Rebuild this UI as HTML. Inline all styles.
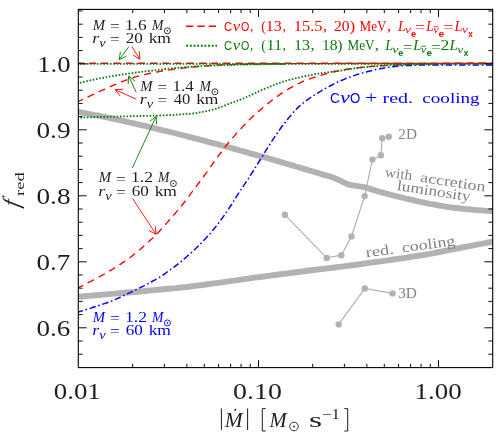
<!DOCTYPE html>
<html><head><meta charset="utf-8"><title>chart</title>
<style>html,body{margin:0;padding:0;background:#fff;}svg{display:block;will-change:transform;}</style></head>
<body>
<svg width="498" height="440" viewBox="0 0 498 440">
<rect width="498" height="440" fill="#fff"/>
<defs><clipPath id="cp"><rect x="78.3" y="9.4" width="414.4" height="358.2"/></clipPath></defs>
<g clip-path="url(#cp)" fill="none">
<path d="M77.0,111.8 L77.7,111.9 L78.7,112.0 L79.7,112.2 L80.9,112.4 L82.2,112.7 L83.7,112.9 L85.2,113.2 L86.7,113.5 L88.4,113.8 L90.0,114.1 L91.7,114.4 L93.6,114.8 L95.5,115.1 L97.5,115.5 L99.6,115.9 L101.7,116.4 L103.8,116.8 L105.9,117.2 L108.0,117.7 L110.0,118.1 L112.0,118.5 L114.0,118.9 L116.0,119.4 L118.0,119.8 L120.0,120.2 L122.0,120.7 L124.0,121.1 L126.0,121.6 L128.0,122.1 L130.0,122.5 L132.0,123.0 L134.0,123.4 L136.0,123.9 L138.0,124.3 L140.0,124.8 L142.0,125.3 L144.0,125.7 L146.0,126.2 L148.0,126.7 L150.0,127.2 L152.0,127.6 L154.0,128.1 L156.0,128.6 L158.0,129.1 L160.0,129.6 L162.0,130.1 L164.0,130.6 L166.0,131.0 L168.0,131.5 L170.0,132.0 L172.0,132.5 L174.0,133.0 L176.0,133.5 L178.0,134.0 L180.0,134.5 L182.0,135.0 L184.0,135.5 L186.0,136.0 L188.0,136.6 L190.0,137.1 L192.0,137.6 L194.0,138.1 L196.0,138.6 L198.0,139.1 L200.0,139.7 L202.0,140.2 L204.0,140.7 L206.0,141.2 L208.0,141.8 L210.0,142.3 L212.0,142.8 L214.0,143.4 L216.0,143.9 L218.0,144.4 L220.0,145.0 L222.0,145.5 L224.0,146.1 L226.0,146.6 L228.0,147.1 L230.0,147.7 L232.0,148.2 L234.0,148.8 L236.0,149.4 L238.0,149.9 L240.0,150.5 L242.0,151.0 L244.0,151.6 L246.0,152.2 L248.0,152.7 L250.0,153.3 L252.0,153.8 L254.0,154.4 L256.0,154.9 L258.0,155.5 L260.0,156.0 L262.0,156.6 L264.0,157.2 L266.0,157.7 L268.0,158.3 L270.0,158.8 L272.0,159.4 L274.0,160.0 L276.0,160.6 L278.0,161.2 L280.0,161.8 L282.0,162.4 L284.0,163.0 L286.0,163.6 L288.0,164.2 L290.0,164.7 L292.0,165.3 L293.9,165.9 L295.9,166.5 L297.8,167.0 L299.7,167.6 L301.7,168.2 L303.7,168.8 L305.7,169.4 L307.8,170.0 L310.0,170.7 L312.4,171.3 L314.9,172.1 L317.7,172.9 L320.5,173.8 L323.3,174.6 L326.0,175.4 L328.5,176.1 L330.8,176.8 L332.6,177.4 L334.1,177.8 L334.1,177.8 L348.6,184.7 L356.0,185.8 L364.6,187.1 L364.6,187.1 L365.5,187.4 L366.6,187.7 L367.8,188.1 L369.3,188.6 L370.8,189.1 L372.5,189.7 L374.3,190.2 L376.1,190.8 L378.1,191.3 L380.0,191.9 L382.0,192.5 L384.2,193.0 L386.5,193.7 L388.9,194.3 L391.3,194.9 L393.8,195.6 L396.3,196.2 L398.8,196.8 L401.3,197.4 L403.7,198.0 L406.1,198.6 L408.4,199.1 L410.8,199.7 L413.2,200.2 L415.5,200.8 L417.9,201.3 L420.3,201.8 L422.7,202.3 L425.0,202.8 L427.4,203.3 L429.8,203.8 L432.1,204.2 L434.5,204.7 L436.9,205.1 L439.2,205.5 L441.6,205.9 L444.0,206.3 L446.4,206.7 L448.7,207.1 L451.1,207.4 L453.5,207.7 L455.9,208.0 L458.4,208.3 L460.8,208.6 L463.2,208.8 L465.6,209.1 L468.0,209.3 L470.3,209.5 L472.6,209.7 L474.8,209.9 L477.0,210.1 L479.2,210.3 L481.5,210.4 L483.7,210.6 L485.9,210.8 L487.9,210.9 L489.8,211.0 L491.5,211.1 L492.9,211.2 L494.0,211.3" stroke="#b2b2b2" stroke-width="5.9" stroke-linejoin="round"/>
<path d="M77.0,296.9 L82.0,296.5 L88.6,295.9 L96.6,295.2 L105.4,294.4 L114.9,293.6 L124.5,292.8 L134.0,292.0 L143.0,291.2 L151.1,290.4 L158.0,289.8 L163.7,289.3 L168.4,288.8 L172.6,288.4 L176.3,288.1 L179.7,287.7 L183.1,287.3 L186.6,287.0 L190.4,286.5 L194.8,285.9 L200.0,285.3 L205.8,284.5 L211.9,283.7 L218.3,282.8 L225.0,281.9 L232.0,280.9 L239.2,279.9 L246.6,278.8 L254.3,277.7 L262.1,276.7 L270.0,275.6 L278.3,274.5 L287.2,273.4 L296.5,272.2 L306.0,271.0 L315.6,269.8 L325.2,268.6 L334.6,267.5 L343.6,266.3 L352.1,265.2 L360.0,264.2 L367.3,263.2 L374.4,262.2 L381.1,261.3 L387.5,260.4 L393.7,259.5 L399.5,258.6 L405.1,257.8 L410.3,257.0 L415.3,256.2 L420.0,255.5 L424.2,254.8 L427.9,254.2 L431.1,253.6 L434.0,253.1 L436.7,252.5 L439.3,252.0 L442.0,251.5 L444.8,250.9 L447.8,250.3 L451.3,249.6 L455.3,248.8 L459.8,248.0 L464.6,247.0 L469.6,246.1 L474.6,245.1 L479.4,244.1 L484.0,243.3 L488.0,242.5 L491.4,241.8 L494.0,241.3" stroke="#b2b2b2" stroke-width="5.9"/>
<path d="M284.9,214.8 L326.7,257.9 L341.3,255.2 L351.5,236.4 L364.6,196.1 L372.4,159.6 L380.9,155.3 L382.2,138.2 L388.8,136.8" stroke="#b2b2b2" stroke-width="1.2"/>
<circle cx="284.9" cy="214.8" r="3.2" fill="#b2b2b2"/>
<circle cx="326.7" cy="257.9" r="3.2" fill="#b2b2b2"/>
<circle cx="341.3" cy="255.2" r="3.2" fill="#b2b2b2"/>
<circle cx="351.5" cy="236.4" r="3.2" fill="#b2b2b2"/>
<circle cx="364.6" cy="196.1" r="3.2" fill="#b2b2b2"/>
<circle cx="372.4" cy="159.6" r="3.2" fill="#b2b2b2"/>
<circle cx="380.9" cy="155.3" r="3.2" fill="#b2b2b2"/>
<circle cx="382.2" cy="138.2" r="3.2" fill="#b2b2b2"/>
<circle cx="388.8" cy="136.8" r="3.2" fill="#b2b2b2"/>
<path d="M338.7,324.4 L364.8,288.4 L392.6,293.4" stroke="#b2b2b2" stroke-width="1.2"/>
<circle cx="338.7" cy="324.4" r="3.2" fill="#b2b2b2"/>
<circle cx="364.8" cy="288.4" r="3.2" fill="#b2b2b2"/>
<circle cx="392.6" cy="293.4" r="3.2" fill="#b2b2b2"/>
<path d="M77.0,288.3 L77.0,288.3 L77.0,288.3 L77.0,288.3 L76.9,288.3 L76.9,288.3 L77.0,288.3 L77.2,288.2 L77.5,288.0 L78.1,287.8 L78.8,287.4 L79.8,286.9 L81.0,286.3 L82.4,285.6 L83.9,284.8 L85.6,284.0 L87.3,283.1 L89.0,282.2 L90.8,281.3 L92.5,280.5 L94.1,279.6 L95.7,278.8 L97.3,277.9 L98.9,277.0 L100.6,276.1 L102.2,275.2 L103.9,274.3 L105.5,273.4 L107.1,272.5 L108.6,271.6 L110.1,270.7 L111.6,269.8 L113.0,269.0 L114.4,268.1 L115.7,267.2 L117.1,266.4 L118.4,265.5 L119.7,264.6 L121.0,263.8 L122.3,262.9 L123.5,262.1 L124.7,261.3 L125.9,260.4 L127.0,259.6 L128.2,258.8 L129.3,258.0 L130.4,257.2 L131.5,256.4 L132.6,255.6 L133.7,254.7 L134.8,253.8 L135.9,252.9 L137.1,251.9 L138.3,251.0 L139.4,250.0 L140.6,249.0 L141.7,248.0 L142.9,247.0 L144.0,246.0 L145.1,245.0 L146.2,244.0 L147.3,243.0 L148.3,242.1 L149.4,241.1 L150.4,240.1 L151.4,239.2 L152.5,238.2 L153.4,237.3 L154.4,236.4 L155.3,235.5 L156.2,234.6 L157.0,233.7 L157.8,232.9 L158.6,232.1 L159.3,231.4 L160.0,230.6 L160.7,229.8 L161.4,229.1 L162.1,228.3 L162.8,227.5 L163.6,226.6 L164.4,225.7 L165.2,224.8 L166.0,223.9 L166.9,222.9 L167.7,221.9 L168.5,221.0 L169.4,220.0 L170.2,219.1 L171.0,218.1 L171.8,217.2 L172.6,216.3 L173.3,215.4 L174.1,214.6 L174.9,213.7 L175.6,212.9 L176.3,212.0 L177.1,211.1 L177.8,210.3 L178.6,209.4 L179.3,208.5 L180.1,207.6 L180.8,206.7 L181.6,205.7 L182.3,204.8 L183.1,203.8 L183.8,202.9 L184.6,201.9 L185.3,201.0 L186.1,200.0 L186.8,199.0 L187.5,198.0 L188.3,197.1 L189.0,196.1 L189.7,195.1 L190.4,194.2 L191.1,193.2 L191.9,192.2 L192.7,191.1 L193.5,190.0 L194.3,188.9 L195.2,187.7 L196.1,186.5 L197.0,185.3 L198.0,184.0 L199.0,182.7 L200.0,181.4 L201.0,180.0 L202.0,178.7 L203.0,177.2 L204.1,175.8 L205.2,174.3 L206.3,172.8 L207.4,171.2 L208.5,169.6 L209.7,167.9 L210.9,166.3 L212.0,164.6 L213.2,163.0 L214.4,161.4 L215.5,159.8 L216.6,158.3 L217.8,156.7 L218.9,155.2 L220.0,153.7 L221.2,152.2 L222.3,150.7 L223.4,149.2 L224.5,147.8 L225.7,146.3 L226.8,144.9 L227.9,143.5 L229.0,142.1 L230.2,140.8 L231.3,139.5 L232.4,138.2 L233.5,136.9 L234.6,135.6 L235.8,134.3 L237.0,132.9 L238.2,131.6 L239.5,130.2 L240.8,128.8 L242.1,127.4 L243.4,125.9 L244.8,124.5 L246.2,123.1 L247.5,121.7 L248.9,120.3 L250.1,119.0 L251.4,117.8 L252.6,116.6 L253.8,115.5 L254.9,114.5 L256.1,113.5 L257.2,112.5 L258.3,111.6 L259.4,110.6 L260.5,109.7 L261.6,108.7 L262.7,107.8 L263.8,106.8 L265.0,105.9 L266.1,105.0 L267.3,104.0 L268.4,103.1 L269.5,102.2 L270.7,101.3 L271.8,100.4 L273.0,99.6 L274.1,98.7 L275.2,97.9 L276.4,97.0 L277.5,96.2 L278.7,95.4 L279.8,94.6 L280.9,93.8 L282.1,93.0 L283.2,92.3 L284.4,91.5 L285.5,90.8 L286.6,90.1 L287.8,89.4 L288.9,88.7 L290.0,88.1 L291.2,87.4 L292.3,86.8 L293.4,86.2 L294.5,85.6 L295.7,85.0 L296.8,84.4 L297.9,83.8 L299.1,83.3 L300.2,82.8 L301.4,82.2 L302.5,81.7 L303.6,81.2 L304.8,80.8 L305.9,80.3 L307.1,79.8 L308.2,79.4 L309.3,79.0 L310.5,78.6 L311.6,78.2 L312.8,77.8 L313.9,77.5 L315.0,77.1 L316.2,76.8 L317.3,76.5 L318.4,76.1 L319.5,75.8 L320.6,75.5 L321.7,75.1 L322.7,74.8 L323.8,74.4 L324.8,74.1 L325.9,73.8 L326.9,73.5 L327.9,73.2 L329.0,72.9 L330.0,72.6 L331.0,72.3 L332.0,72.1 L333.0,71.9 L334.0,71.7 L335.0,71.5 L336.0,71.3 L337.0,71.1 L338.0,70.9 L339.0,70.7 L340.0,70.5 L341.0,70.3 L342.0,70.1 L343.0,69.9 L344.0,69.7 L345.0,69.5 L346.0,69.4 L347.0,69.2 L348.0,69.0 L349.0,68.9 L350.0,68.7 L351.0,68.6 L352.0,68.4 L353.0,68.3 L354.0,68.2 L355.0,68.1 L356.0,67.9 L357.0,67.8 L358.0,67.7 L359.0,67.6 L360.0,67.5 L361.0,67.4 L362.0,67.3 L363.0,67.2 L364.0,67.1 L365.0,67.0 L366.0,66.9 L367.0,66.8 L368.0,66.7 L369.0,66.6 L370.0,66.5 L371.0,66.4 L372.0,66.3 L373.0,66.3 L374.0,66.2 L375.0,66.1 L376.0,66.1 L377.0,66.0 L378.0,65.9 L379.0,65.9 L380.0,65.8 L381.0,65.7 L381.8,65.7 L382.7,65.6 L383.5,65.6 L384.4,65.5 L385.3,65.5 L386.3,65.4 L387.4,65.3 L388.6,65.3 L390.0,65.2 L391.6,65.1 L393.2,65.0 L394.9,64.9 L396.8,64.9 L398.8,64.8 L400.8,64.7 L402.9,64.6 L405.2,64.5 L407.6,64.4 L410.0,64.3 L412.5,64.2 L415.0,64.1 L417.5,64.1 L420.1,64.0 L422.9,63.9 L425.8,63.9 L428.9,63.8 L432.3,63.7 L436.0,63.7 L440.0,63.6 L444.7,63.5 L450.1,63.5 L456.1,63.4 L462.5,63.4 L468.9,63.3 L475.1,63.3 L481.0,63.2 L486.3,63.2 L490.7,63.1 L494.0,63.1" stroke="#ff0000" stroke-width="1.4" stroke-dasharray="7.0 5.2"/>
<path d="M77.0,102.1 L77.0,102.1 L77.0,102.1 L76.9,102.1 L76.8,102.2 L76.8,102.2 L76.9,102.1 L77.1,102.0 L77.4,101.9 L78.0,101.6 L78.8,101.2 L79.9,100.7 L81.2,100.1 L82.8,99.3 L84.5,98.5 L86.3,97.7 L88.2,96.8 L90.2,95.8 L92.2,94.9 L94.2,94.0 L96.1,93.1 L98.0,92.2 L99.9,91.3 L101.9,90.4 L103.9,89.5 L106.0,88.6 L108.0,87.6 L110.1,86.7 L112.1,85.8 L114.2,84.9 L116.2,84.1 L118.2,83.3 L120.2,82.5 L122.2,81.7 L124.2,80.9 L126.2,80.1 L128.2,79.4 L130.2,78.7 L132.2,78.0 L134.2,77.3 L136.2,76.7 L138.2,76.1 L140.2,75.6 L142.2,75.1 L144.3,74.6 L146.3,74.1 L148.3,73.7 L150.3,73.3 L152.3,72.9 L154.3,72.5 L156.3,72.1 L158.3,71.7 L160.2,71.4 L162.1,71.0 L164.0,70.7 L165.9,70.4 L167.8,70.1 L169.8,69.9 L171.8,69.6 L173.9,69.3 L176.0,69.0 L178.2,68.7 L180.5,68.4 L182.9,68.1 L185.2,67.8 L187.7,67.5 L190.1,67.3 L192.6,67.0 L195.1,66.8 L197.5,66.5 L200.0,66.3 L202.4,66.1 L204.8,65.9 L207.1,65.7 L209.4,65.6 L211.8,65.4 L214.2,65.3 L216.7,65.2 L219.3,65.0 L222.1,64.9 L225.0,64.8 L228.1,64.7 L231.3,64.6 L234.6,64.5 L238.0,64.4 L241.6,64.3 L245.2,64.3 L248.8,64.2 L252.5,64.1 L256.3,64.1 L260.0,64.0 L263.1,63.9 L265.2,63.9 L266.8,63.8 L268.2,63.8 L270.1,63.8 L272.7,63.7 L276.5,63.7 L282.1,63.7 L289.7,63.6 L300.0,63.6 L314.0,63.6 L332.0,63.6 L353.0,63.5 L375.8,63.5 L399.5,63.5 L423.0,63.5 L445.2,63.5 L465.2,63.5 L481.8,63.5 L494.0,63.5" stroke="#ff0000" stroke-width="1.4" stroke-dasharray="7.0 5.2"/>
<path d="M77.0,63.3 L103.7,63.3 L140.4,63.3 L184.6,63.3 L233.8,63.3 L285.5,63.3 L337.2,63.3 L386.4,63.3 L430.6,63.3 L467.3,63.3 L494.0,63.3" stroke="#ff0000" stroke-width="1.4" stroke-dasharray="7.0 5.2"/>
<path d="M77.0,312.5 L77.0,312.5 L77.0,312.5 L77.0,312.5 L76.9,312.5 L76.9,312.5 L77.0,312.4 L77.2,312.3 L77.5,312.2 L78.1,312.0 L78.8,311.8 L79.8,311.5 L81.0,311.1 L82.4,310.7 L83.9,310.2 L85.6,309.7 L87.3,309.2 L89.0,308.6 L90.8,308.1 L92.5,307.5 L94.1,307.0 L95.7,306.5 L97.3,306.0 L98.8,305.5 L100.4,305.0 L102.0,304.4 L103.7,303.9 L105.3,303.4 L106.9,302.8 L108.5,302.2 L110.1,301.6 L111.7,301.0 L113.3,300.3 L114.9,299.6 L116.5,298.9 L118.1,298.2 L119.8,297.4 L121.4,296.7 L123.0,295.9 L124.6,295.2 L126.2,294.4 L127.8,293.6 L129.4,292.9 L131.0,292.1 L132.7,291.4 L134.3,290.6 L135.9,289.8 L137.5,289.0 L139.1,288.2 L140.7,287.4 L142.3,286.6 L143.9,285.8 L145.5,284.9 L147.2,284.1 L148.8,283.2 L150.4,282.4 L152.0,281.5 L153.6,280.6 L155.1,279.8 L156.6,278.9 L158.0,278.1 L159.4,277.3 L160.7,276.5 L161.9,275.7 L163.1,274.9 L164.3,274.1 L165.4,273.3 L166.6,272.5 L167.7,271.7 L168.9,270.9 L170.1,270.0 L171.3,269.1 L172.4,268.3 L173.6,267.4 L174.7,266.6 L175.8,265.7 L177.0,264.8 L178.2,263.8 L179.4,262.8 L180.7,261.8 L182.1,260.6 L183.5,259.4 L185.1,258.1 L186.6,256.7 L188.2,255.3 L189.9,253.9 L191.6,252.4 L193.2,250.8 L194.9,249.3 L196.6,247.7 L198.2,246.1 L199.8,244.5 L201.5,242.8 L203.1,241.0 L204.8,239.3 L206.5,237.5 L208.1,235.7 L209.7,233.9 L211.3,232.1 L212.8,230.3 L214.3,228.5 L215.7,226.8 L217.1,225.0 L218.4,223.3 L219.7,221.6 L221.0,219.8 L222.3,218.1 L223.5,216.4 L224.7,214.7 L225.9,212.9 L227.1,211.2 L228.3,209.5 L229.4,207.7 L230.5,206.0 L231.7,204.3 L232.7,202.5 L233.8,200.8 L234.9,199.1 L236.0,197.3 L237.1,195.6 L238.2,193.9 L239.3,192.2 L240.4,190.5 L241.6,188.8 L242.7,187.1 L243.8,185.4 L245.0,183.7 L246.1,182.0 L247.2,180.3 L248.4,178.6 L249.5,176.8 L250.6,175.0 L251.7,173.3 L252.9,171.5 L254.0,169.7 L255.1,167.9 L256.2,166.1 L257.3,164.3 L258.5,162.4 L259.7,160.5 L260.9,158.6 L262.2,156.6 L263.5,154.5 L264.8,152.4 L266.1,150.2 L267.5,148.1 L268.9,145.9 L270.2,143.8 L271.5,141.7 L272.8,139.7 L274.1,137.8 L275.3,136.0 L276.5,134.3 L277.7,132.6 L278.8,131.0 L279.9,129.4 L281.0,127.8 L282.1,126.3 L283.3,124.8 L284.4,123.4 L285.5,121.9 L286.6,120.5 L287.8,119.0 L288.9,117.6 L290.0,116.2 L291.2,114.9 L292.3,113.6 L293.4,112.3 L294.5,111.1 L295.7,109.9 L296.8,108.7 L297.9,107.6 L299.1,106.5 L300.2,105.5 L301.3,104.5 L302.5,103.6 L303.6,102.7 L304.7,101.8 L305.9,100.9 L307.0,100.1 L308.2,99.2 L309.4,98.4 L310.6,97.5 L311.8,96.7 L313.0,96.0 L314.2,95.2 L315.4,94.5 L316.6,93.8 L317.7,93.1 L318.9,92.4 L320.0,91.7 L321.1,91.1 L322.1,90.4 L323.1,89.8 L324.1,89.3 L325.1,88.7 L326.1,88.1 L327.1,87.6 L328.0,87.1 L329.0,86.5 L330.0,86.0 L331.0,85.5 L332.0,85.0 L333.0,84.4 L334.0,83.9 L335.0,83.4 L336.0,83.0 L337.0,82.5 L338.0,82.0 L339.0,81.6 L340.0,81.1 L341.0,80.7 L342.0,80.2 L343.0,79.8 L344.0,79.4 L345.0,78.9 L346.0,78.5 L347.0,78.1 L348.0,77.8 L349.0,77.4 L350.0,77.0 L351.0,76.6 L352.0,76.3 L353.0,75.9 L354.0,75.6 L355.0,75.3 L356.0,74.9 L357.0,74.6 L358.0,74.3 L359.0,74.0 L360.0,73.7 L361.0,73.4 L362.0,73.1 L363.0,72.8 L364.0,72.6 L365.0,72.3 L366.0,72.0 L367.0,71.8 L368.0,71.5 L369.0,71.2 L370.0,71.0 L371.0,70.8 L372.0,70.5 L373.0,70.3 L374.0,70.1 L375.0,69.8 L376.0,69.6 L377.0,69.4 L378.0,69.2 L379.0,69.0 L380.0,68.8 L381.0,68.6 L382.0,68.4 L383.0,68.2 L384.0,68.1 L385.0,67.9 L386.0,67.7 L387.0,67.6 L388.0,67.4 L389.0,67.2 L390.0,67.1 L391.0,67.0 L392.0,66.8 L393.0,66.7 L394.0,66.6 L395.0,66.4 L396.0,66.3 L397.0,66.2 L398.0,66.1 L399.0,66.0 L400.0,65.9 L401.0,65.8 L401.8,65.8 L402.7,65.7 L403.5,65.6 L404.4,65.6 L405.3,65.6 L406.3,65.5 L407.4,65.5 L408.6,65.4 L410.0,65.4 L411.6,65.4 L413.2,65.3 L414.9,65.3 L416.8,65.2 L418.8,65.2 L420.8,65.1 L422.9,65.1 L425.2,65.1 L427.6,65.0 L430.0,65.0 L432.6,65.0 L435.3,65.0 L438.1,64.9 L441.1,64.9 L444.1,64.9 L447.2,64.9 L450.4,64.9 L453.6,64.9 L456.8,64.9 L460.0,64.9 L463.4,64.9 L467.1,64.9 L471.0,64.9 L474.9,64.9 L478.9,64.9 L482.7,64.9 L486.2,64.9 L489.3,64.9 L492.0,64.9 L494.0,64.9" stroke="#0000ff" stroke-width="1.5" stroke-dasharray="6.4 2.7 1.6 2.7"/>
<path d="M77.0,117.6 L79.3,117.5 L82.3,117.5 L85.8,117.4 L89.7,117.3 L94.0,117.2 L98.4,117.0 L103.0,116.9 L107.5,116.8 L111.9,116.7 L116.0,116.6 L120.1,116.5 L124.2,116.4 L128.5,116.3 L132.8,116.2 L137.1,116.1 L141.3,116.0 L145.4,115.9 L149.3,115.8 L152.9,115.7 L156.3,115.6 L159.4,115.5 L162.2,115.4 L164.9,115.3 L167.3,115.2 L169.7,115.1 L171.9,115.0 L174.0,114.9 L176.0,114.7 L178.0,114.6 L180.0,114.5 L182.0,114.4 L183.9,114.2 L185.7,114.1 L187.5,113.9 L189.2,113.8 L190.8,113.6 L192.3,113.5 L193.7,113.3 L194.9,113.2 L196.0,113.1 L196.9,113.0 L197.5,112.9 L197.9,112.9 L198.3,112.8 L198.5,112.7 L198.7,112.7 L198.9,112.6 L199.2,112.5 L199.6,112.4 L200.2,112.3 L201.0,112.2 L201.8,112.0 L202.8,111.8 L203.8,111.6 L204.8,111.4 L205.9,111.2 L207.0,111.0 L208.1,110.8 L209.2,110.5 L210.2,110.3 L211.2,110.0 L212.2,109.8 L213.2,109.5 L214.2,109.2 L215.2,108.9 L216.2,108.6 L217.2,108.2 L218.2,107.9 L219.2,107.5 L220.2,107.2 L221.2,106.8 L222.2,106.5 L223.2,106.1 L224.2,105.7 L225.2,105.3 L226.3,104.9 L227.3,104.5 L228.3,104.1 L229.3,103.7 L230.3,103.3 L231.3,102.9 L232.3,102.6 L233.3,102.2 L234.3,101.9 L235.2,101.5 L236.2,101.1 L237.2,100.8 L238.2,100.4 L239.3,100.0 L240.3,99.6 L241.4,99.2 L242.4,98.7 L243.5,98.3 L244.7,97.8 L245.8,97.3 L246.9,96.8 L248.0,96.3 L249.1,95.8 L250.3,95.3 L251.4,94.8 L252.5,94.3 L253.6,93.8 L254.8,93.3 L255.9,92.7 L257.0,92.2 L258.2,91.7 L259.3,91.1 L260.4,90.6 L261.6,90.1 L262.7,89.6 L263.8,89.1 L265.0,88.6 L266.1,88.2 L267.3,87.7 L268.4,87.2 L269.5,86.8 L270.7,86.3 L271.8,85.9 L273.0,85.4 L274.1,85.0 L275.2,84.6 L276.4,84.1 L277.5,83.7 L278.7,83.3 L279.8,82.9 L280.9,82.5 L282.1,82.1 L283.2,81.7 L284.4,81.4 L285.5,81.0 L286.6,80.7 L287.8,80.3 L288.9,80.0 L290.0,79.7 L291.2,79.4 L292.3,79.1 L293.4,78.8 L294.5,78.6 L295.7,78.3 L296.8,78.0 L297.9,77.7 L299.1,77.5 L300.2,77.2 L301.4,76.9 L302.5,76.7 L303.6,76.4 L304.8,76.2 L305.9,76.0 L307.1,75.7 L308.2,75.5 L309.3,75.3 L310.5,75.1 L311.6,74.9 L312.7,74.6 L313.8,74.4 L315.0,74.2 L316.1,74.1 L317.2,73.9 L318.4,73.7 L319.5,73.5 L320.6,73.3 L321.8,73.1 L323.0,73.0 L324.2,72.8 L325.3,72.7 L326.5,72.5 L327.6,72.3 L328.8,72.2 L329.9,72.0 L330.9,71.9 L331.9,71.8 L332.9,71.6 L333.8,71.5 L334.7,71.4 L335.5,71.3 L336.4,71.1 L337.3,71.0 L338.2,70.9 L339.1,70.7 L340.0,70.6 L341.0,70.5 L341.9,70.3 L342.9,70.1 L343.9,70.0 L344.9,69.8 L346.0,69.6 L347.0,69.5 L348.0,69.3 L349.0,69.1 L350.0,69.0 L351.0,68.9 L352.0,68.7 L353.0,68.6 L354.0,68.4 L355.0,68.3 L356.0,68.2 L357.0,68.1 L358.0,67.9 L359.0,67.8 L360.0,67.7 L361.0,67.6 L362.0,67.5 L363.0,67.4 L364.0,67.3 L365.0,67.2 L366.0,67.1 L367.0,67.0 L368.0,66.9 L369.0,66.8 L370.0,66.7 L371.0,66.6 L372.0,66.5 L373.0,66.4 L374.0,66.4 L375.0,66.3 L376.0,66.2 L377.0,66.1 L378.0,66.1 L379.0,66.0 L380.0,65.9 L381.0,65.8 L381.8,65.8 L382.7,65.7 L383.5,65.6 L384.4,65.5 L385.3,65.5 L386.3,65.4 L387.4,65.3 L388.6,65.3 L390.0,65.2 L391.6,65.1 L393.3,65.1 L395.1,65.0 L397.0,64.9 L399.0,64.8 L401.1,64.8 L403.2,64.7 L405.5,64.6 L407.7,64.6 L410.0,64.5 L412.5,64.4 L415.2,64.4 L418.2,64.3 L421.2,64.3 L424.2,64.2 L427.2,64.2 L429.9,64.1 L432.4,64.1 L434.4,64.0 L436.0,64.0" stroke="#0a7a0a" stroke-width="1.8" stroke-dasharray="1.6 1.7"/>
<path d="M77.0,83.5 L77.0,83.5 L77.0,83.5 L76.9,83.5 L76.8,83.5 L76.8,83.5 L76.9,83.5 L77.1,83.5 L77.4,83.4 L78.0,83.3 L78.8,83.1 L79.9,82.8 L81.2,82.5 L82.8,82.2 L84.5,81.7 L86.3,81.3 L88.2,80.8 L90.2,80.4 L92.2,79.9 L94.2,79.5 L96.1,79.1 L98.0,78.7 L99.9,78.3 L101.9,78.0 L103.9,77.6 L106.0,77.2 L108.0,76.9 L110.1,76.5 L112.1,76.2 L114.2,75.8 L116.2,75.5 L118.2,75.2 L120.2,74.9 L122.2,74.5 L124.2,74.2 L126.2,73.9 L128.2,73.6 L130.2,73.3 L132.2,73.1 L134.2,72.8 L136.2,72.5 L138.2,72.2 L140.2,72.0 L142.2,71.7 L144.3,71.5 L146.3,71.2 L148.3,71.0 L150.3,70.8 L152.3,70.6 L154.3,70.3 L156.3,70.1 L158.3,69.9 L160.2,69.7 L162.1,69.4 L164.0,69.2 L165.9,69.0 L167.8,68.8 L169.8,68.6 L171.8,68.4 L173.9,68.2 L176.0,68.0 L178.2,67.8 L180.4,67.6 L182.7,67.4 L185.0,67.2 L187.4,67.1 L189.8,66.9 L192.2,66.7 L194.7,66.5 L197.3,66.4 L200.0,66.2 L202.7,66.0 L205.6,65.9 L208.5,65.8 L211.5,65.6 L214.5,65.5 L217.6,65.3 L220.7,65.2 L223.8,65.1 L226.9,65.0 L230.0,64.9 L233.2,64.8 L236.4,64.7 L239.7,64.7 L243.1,64.6 L246.4,64.5 L249.8,64.5 L253.0,64.4 L256.1,64.4 L259.2,64.3 L262.0,64.3 L264.8,64.3 L267.5,64.2 L270.3,64.2 L273.0,64.1 L275.5,64.1 L277.9,64.1 L280.1,64.1 L282.0,64.0 L283.7,64.0 L285.0,64.0" stroke="#0a7a0a" stroke-width="1.8" stroke-dasharray="1.6 1.7"/>
<path d="M77.0,63.8 L103.7,63.8 L140.4,63.8 L184.6,63.8 L233.8,63.8 L285.5,63.8 L337.2,63.8 L386.4,63.8 L430.6,63.8 L467.3,63.8 L494.0,63.8" stroke="#0a7a0a" stroke-width="1.8" stroke-dasharray="1.6 1.7"/>
</g>
<path d="M128.9,46.6 L119.2,59.6 M119.2,59.6 L120.4,51.7 M119.2,59.6 L126.4,56.2" stroke="#0a7a0a" stroke-width="0.9" fill="none"/>
<path d="M131.9,46.6 L139.9,59.2 M139.9,59.2 L132.9,55.2 M139.9,59.2 L139.3,51.2" stroke="#ff0000" stroke-width="0.9" fill="none"/>
<path d="M136.2,92.1 L128.6,76.1 M128.6,76.1 L135.0,80.9 M128.6,76.1 L128.2,84.1" stroke="#0a7a0a" stroke-width="0.9" fill="none"/>
<path d="M136.2,99.2 L115.2,89.7 M115.2,89.7 L123.2,89.2 M115.2,89.7 L120.1,96.0" stroke="#ff0000" stroke-width="0.9" fill="none"/>
<path d="M132.3,168.0 L156.2,116.4 M156.2,116.4 L156.6,124.4 M156.2,116.4 L149.8,121.2" stroke="#0a7a0a" stroke-width="0.9" fill="none"/>
<path d="M132.5,198.5 L156.1,234.3 M156.1,234.3 L149.1,230.5 M156.1,234.3 L155.3,226.3" stroke="#ff0000" stroke-width="0.9" fill="none"/>
<path d="M186,26.3 H216.2" stroke="#ff0000" stroke-width="1.4" stroke-dasharray="7.3 4.1" fill="none"/>
<path d="M186.2,45.8 H217" stroke="#0a7a0a" stroke-width="1.9" stroke-dasharray="1.9 1.75" fill="none"/>
<path d="M78.3,354.20 h4.3 M492.7,354.20 h-4.3 M78.3,341.00 h4.3 M492.7,341.00 h-4.3 M78.3,327.80 h8.4 M492.7,327.80 h-8.4 M78.3,314.60 h4.3 M492.7,314.60 h-4.3 M78.3,301.40 h4.3 M492.7,301.40 h-4.3 M78.3,288.20 h4.3 M492.7,288.20 h-4.3 M78.3,275.00 h4.3 M492.7,275.00 h-4.3 M78.3,261.80 h8.4 M492.7,261.80 h-8.4 M78.3,248.60 h4.3 M492.7,248.60 h-4.3 M78.3,235.40 h4.3 M492.7,235.40 h-4.3 M78.3,222.20 h4.3 M492.7,222.20 h-4.3 M78.3,209.00 h4.3 M492.7,209.00 h-4.3 M78.3,195.80 h8.4 M492.7,195.80 h-8.4 M78.3,182.60 h4.3 M492.7,182.60 h-4.3 M78.3,169.40 h4.3 M492.7,169.40 h-4.3 M78.3,156.20 h4.3 M492.7,156.20 h-4.3 M78.3,143.00 h4.3 M492.7,143.00 h-4.3 M78.3,129.80 h8.4 M492.7,129.80 h-8.4 M78.3,116.60 h4.3 M492.7,116.60 h-4.3 M78.3,103.40 h4.3 M492.7,103.40 h-4.3 M78.3,90.20 h4.3 M492.7,90.20 h-4.3 M78.3,77.00 h4.3 M492.7,77.00 h-4.3 M78.3,63.80 h8.4 M492.7,63.80 h-8.4 M78.3,50.60 h4.3 M492.7,50.60 h-4.3 M78.3,37.40 h4.3 M492.7,37.40 h-4.3 M78.3,24.20 h4.3 M492.7,24.20 h-4.3 M78.3,11.00 h4.3 M492.7,11.00 h-4.3 M132.69,367.6 v-3.8 M132.69,9.4 v3.8 M164.38,367.6 v-3.8 M164.38,9.4 v3.8 M186.87,367.6 v-3.8 M186.87,9.4 v3.8 M204.31,367.6 v-3.8 M204.31,9.4 v3.8 M218.57,367.6 v-3.8 M218.57,9.4 v3.8 M230.62,367.6 v-3.8 M230.62,9.4 v3.8 M241.06,367.6 v-3.8 M241.06,9.4 v3.8 M250.26,367.6 v-3.8 M250.26,9.4 v3.8 M258.50,367.6 v-7.5 M258.50,9.4 v7.5 M312.69,367.6 v-3.8 M312.69,9.4 v3.8 M344.38,367.6 v-3.8 M344.38,9.4 v3.8 M366.87,367.6 v-3.8 M366.87,9.4 v3.8 M384.31,367.6 v-3.8 M384.31,9.4 v3.8 M398.57,367.6 v-3.8 M398.57,9.4 v3.8 M410.62,367.6 v-3.8 M410.62,9.4 v3.8 M421.06,367.6 v-3.8 M421.06,9.4 v3.8 M430.26,367.6 v-3.8 M430.26,9.4 v3.8 M438.50,367.6 v-7.5 M438.50,9.4 v7.5" stroke="#000" stroke-width="0.95" fill="none"/>
<rect x="78.3" y="9.4" width="414.4" height="358.2" fill="none" stroke="#000" stroke-width="1.1"/>
<g fill="#1e1e1e">
<text x="37.17" y="71.60" font-size="22.3" textLength="33.33" lengthAdjust="spacingAndGlyphs" font-family="Liberation Serif, serif" xml:space="preserve">1.0</text>
<text x="36.48" y="137.60" font-size="22.3" textLength="34.12" lengthAdjust="spacingAndGlyphs" font-family="Liberation Serif, serif" xml:space="preserve">0.9</text>
<text x="36.48" y="203.60" font-size="22.3" textLength="34.04" lengthAdjust="spacingAndGlyphs" font-family="Liberation Serif, serif" xml:space="preserve">0.8</text>
<text x="36.49" y="269.60" font-size="22.3" textLength="33.76" lengthAdjust="spacingAndGlyphs" font-family="Liberation Serif, serif" xml:space="preserve">0.7</text>
<text x="36.49" y="335.60" font-size="22.3" textLength="33.83" lengthAdjust="spacingAndGlyphs" font-family="Liberation Serif, serif" xml:space="preserve">0.6</text>
<text x="53.79" y="398.70" font-size="22.3" textLength="47.02" lengthAdjust="spacingAndGlyphs" font-family="Liberation Serif, serif" xml:space="preserve">0.01</text>
<text x="233.05" y="398.70" font-size="22.3" textLength="48.90" lengthAdjust="spacingAndGlyphs" font-family="Liberation Serif, serif" xml:space="preserve">0.10</text>
<text x="414.54" y="398.70" font-size="22.3" textLength="47.17" lengthAdjust="spacingAndGlyphs" font-family="Liberation Serif, serif" xml:space="preserve">1.00</text>
</g>
<g transform="translate(20,190) rotate(-90)" fill="#1e1e1e"><text transform="translate(-18.1,-0.6) skewX(-12)" font-size="23.5" font-family="Liberation Serif, serif" font-style="italic">f</text><text x="-5.97" y="3.90" font-size="13.3" textLength="23.59" lengthAdjust="spacingAndGlyphs" font-family="Liberation Serif, serif" xml:space="preserve">red</text></g>
<g fill="#1e1e1e">
<path d="M221.4,408.4 V430 M247.6,408.4 V430" stroke="#1e1e1e" stroke-width="1" fill="none"/>
<text x="224.77" y="426.50" font-size="20" textLength="17.92" lengthAdjust="spacingAndGlyphs" font-family="Liberation Serif, serif" font-style="italic" xml:space="preserve">M</text>
<circle cx="235.3" cy="409.8" r="0.95"/>
<path d="M265.7,408.6 H262.3 V431 H265.7" stroke="#1e1e1e" stroke-width="1" fill="none"/>
<text x="269.56" y="426.50" font-size="20" textLength="17.17" lengthAdjust="spacingAndGlyphs" font-family="Liberation Serif, serif" font-style="italic" xml:space="preserve">M</text>
<circle cx="294" cy="426.5" r="4.3" fill="none" stroke="#1e1e1e" stroke-width="0.9"/><circle cx="294" cy="426.5" r="0.9"/>
<text x="308.96" y="426.50" font-size="22" textLength="13.08" lengthAdjust="spacingAndGlyphs" font-family="Liberation Serif, serif" xml:space="preserve">s</text>
<text x="322.16" y="418.50" font-size="14" textLength="17.83" lengthAdjust="spacingAndGlyphs" font-family="Liberation Serif, serif" xml:space="preserve">−1</text>
<path d="M344.3,408.6 H347.7 V431 H344.3" stroke="#1e1e1e" stroke-width="1" fill="none"/>
</g>
<g fill="#1e1e1e">
<text x="92.68" y="29.60" font-size="14" textLength="12.32" lengthAdjust="spacingAndGlyphs" font-family="Liberation Serif, serif" font-style="italic" xml:space="preserve">M</text>
<text x="110.04" y="30.80" font-size="14" textLength="9.70" lengthAdjust="spacingAndGlyphs" font-family="Liberation Serif, serif" xml:space="preserve">=</text>
<text x="124.99" y="29.60" font-size="14" textLength="21.52" lengthAdjust="spacingAndGlyphs" font-family="Liberation Serif, serif" xml:space="preserve">1.6</text>
<text x="151.97" y="29.60" font-size="14" textLength="11.39" lengthAdjust="spacingAndGlyphs" font-family="Liberation Serif, serif" font-style="italic" xml:space="preserve">M</text>
<circle cx="167.4" cy="30.8" r="3.0" fill="none" stroke="#1e1e1e" stroke-width="0.9"/><circle cx="167.4" cy="30.8" r="0.8" fill="#1e1e1e"/>
<text x="92.29" y="43.00" font-size="14" textLength="6.96" lengthAdjust="spacingAndGlyphs" font-family="Liberation Serif, serif" font-style="italic" xml:space="preserve">r</text>
<text x="99.28" y="47.00" font-size="12" textLength="6.40" lengthAdjust="spacingAndGlyphs" font-family="Liberation Serif, serif" font-style="italic" xml:space="preserve">ν</text>
<text x="110.04" y="44.20" font-size="14" textLength="9.70" lengthAdjust="spacingAndGlyphs" font-family="Liberation Serif, serif" xml:space="preserve">=</text>
<text x="125.77" y="43.00" font-size="14" textLength="17.07" lengthAdjust="spacingAndGlyphs" font-family="Liberation Serif, serif" xml:space="preserve">20</text>
<text x="148.65" y="43.00" font-size="14" textLength="22.32" lengthAdjust="spacingAndGlyphs" font-family="Liberation Serif, serif" xml:space="preserve">km</text>
</g>
<g fill="#1e1e1e">
<text x="140.18" y="90.60" font-size="14" textLength="12.32" lengthAdjust="spacingAndGlyphs" font-family="Liberation Serif, serif" font-style="italic" xml:space="preserve">M</text>
<text x="157.54" y="91.80" font-size="14" textLength="9.70" lengthAdjust="spacingAndGlyphs" font-family="Liberation Serif, serif" xml:space="preserve">=</text>
<text x="172.51" y="90.60" font-size="14" textLength="21.24" lengthAdjust="spacingAndGlyphs" font-family="Liberation Serif, serif" xml:space="preserve">1.4</text>
<text x="199.47" y="90.60" font-size="14" textLength="11.39" lengthAdjust="spacingAndGlyphs" font-family="Liberation Serif, serif" font-style="italic" xml:space="preserve">M</text>
<circle cx="214.9" cy="91.8" r="3.0" fill="none" stroke="#1e1e1e" stroke-width="0.9"/><circle cx="214.9" cy="91.8" r="0.8" fill="#1e1e1e"/>
<text x="139.79" y="104.00" font-size="14" textLength="6.96" lengthAdjust="spacingAndGlyphs" font-family="Liberation Serif, serif" font-style="italic" xml:space="preserve">r</text>
<text x="146.78" y="108.00" font-size="12" textLength="6.40" lengthAdjust="spacingAndGlyphs" font-family="Liberation Serif, serif" font-style="italic" xml:space="preserve">ν</text>
<text x="157.54" y="105.20" font-size="14" textLength="9.70" lengthAdjust="spacingAndGlyphs" font-family="Liberation Serif, serif" xml:space="preserve">=</text>
<text x="173.67" y="104.00" font-size="14" textLength="16.66" lengthAdjust="spacingAndGlyphs" font-family="Liberation Serif, serif" xml:space="preserve">40</text>
<text x="196.15" y="104.00" font-size="14" textLength="22.32" lengthAdjust="spacingAndGlyphs" font-family="Liberation Serif, serif" xml:space="preserve">km</text>
</g>
<g fill="#1e1e1e">
<text x="98.68" y="182.30" font-size="14" textLength="12.32" lengthAdjust="spacingAndGlyphs" font-family="Liberation Serif, serif" font-style="italic" xml:space="preserve">M</text>
<text x="116.04" y="183.50" font-size="14" textLength="9.70" lengthAdjust="spacingAndGlyphs" font-family="Liberation Serif, serif" xml:space="preserve">=</text>
<text x="130.96" y="182.30" font-size="14" textLength="22.01" lengthAdjust="spacingAndGlyphs" font-family="Liberation Serif, serif" xml:space="preserve">1.2</text>
<text x="157.97" y="182.30" font-size="14" textLength="11.39" lengthAdjust="spacingAndGlyphs" font-family="Liberation Serif, serif" font-style="italic" xml:space="preserve">M</text>
<circle cx="173.4" cy="183.5" r="3.0" fill="none" stroke="#1e1e1e" stroke-width="0.9"/><circle cx="173.4" cy="183.5" r="0.8" fill="#1e1e1e"/>
<text x="98.29" y="195.70" font-size="14" textLength="6.96" lengthAdjust="spacingAndGlyphs" font-family="Liberation Serif, serif" font-style="italic" xml:space="preserve">r</text>
<text x="105.28" y="199.70" font-size="12" textLength="6.40" lengthAdjust="spacingAndGlyphs" font-family="Liberation Serif, serif" font-style="italic" xml:space="preserve">ν</text>
<text x="116.04" y="196.90" font-size="14" textLength="9.70" lengthAdjust="spacingAndGlyphs" font-family="Liberation Serif, serif" xml:space="preserve">=</text>
<text x="131.77" y="195.70" font-size="14" textLength="17.07" lengthAdjust="spacingAndGlyphs" font-family="Liberation Serif, serif" xml:space="preserve">60</text>
<text x="154.65" y="195.70" font-size="14" textLength="22.32" lengthAdjust="spacingAndGlyphs" font-family="Liberation Serif, serif" xml:space="preserve">km</text>
</g>
<g fill="#0000ff">
<text x="92.68" y="321.70" font-size="14" textLength="12.32" lengthAdjust="spacingAndGlyphs" font-family="Liberation Serif, serif" font-style="italic" xml:space="preserve">M</text>
<text x="110.04" y="322.90" font-size="14" textLength="9.70" lengthAdjust="spacingAndGlyphs" font-family="Liberation Serif, serif" xml:space="preserve">=</text>
<text x="124.96" y="321.70" font-size="14" textLength="22.01" lengthAdjust="spacingAndGlyphs" font-family="Liberation Serif, serif" xml:space="preserve">1.2</text>
<text x="151.97" y="321.70" font-size="14" textLength="11.39" lengthAdjust="spacingAndGlyphs" font-family="Liberation Serif, serif" font-style="italic" xml:space="preserve">M</text>
<circle cx="167.4" cy="322.9" r="3.0" fill="none" stroke="#0000ff" stroke-width="0.9"/><circle cx="167.4" cy="322.9" r="0.8" fill="#0000ff"/>
<text x="92.29" y="335.10" font-size="14" textLength="6.96" lengthAdjust="spacingAndGlyphs" font-family="Liberation Serif, serif" font-style="italic" xml:space="preserve">r</text>
<text x="99.28" y="339.10" font-size="12" textLength="6.40" lengthAdjust="spacingAndGlyphs" font-family="Liberation Serif, serif" font-style="italic" xml:space="preserve">ν</text>
<text x="110.04" y="336.30" font-size="14" textLength="9.70" lengthAdjust="spacingAndGlyphs" font-family="Liberation Serif, serif" xml:space="preserve">=</text>
<text x="125.77" y="335.10" font-size="14" textLength="17.07" lengthAdjust="spacingAndGlyphs" font-family="Liberation Serif, serif" xml:space="preserve">60</text>
<text x="148.65" y="335.10" font-size="14" textLength="22.32" lengthAdjust="spacingAndGlyphs" font-family="Liberation Serif, serif" xml:space="preserve">km</text>
</g>
<g fill="#0000ff">
<text x="330.11" y="102.80" font-size="14" textLength="9.89" lengthAdjust="spacingAndGlyphs" font-family="Liberation Sans, sans-serif" xml:space="preserve">C</text>
<text x="340.07" y="102.80" font-size="17" textLength="9.91" lengthAdjust="spacingAndGlyphs" font-family="Liberation Serif, serif" font-style="italic" xml:space="preserve">ν</text>
<text x="350.07" y="102.80" font-size="14" textLength="10.26" lengthAdjust="spacingAndGlyphs" font-family="Liberation Sans, sans-serif" xml:space="preserve">O</text>
<text x="365.10" y="102.80" font-size="16" textLength="12.37" lengthAdjust="spacingAndGlyphs" font-family="Liberation Serif, serif" xml:space="preserve">+</text>
<text x="382.50" y="102.80" font-size="15.5" textLength="30.59" lengthAdjust="spacingAndGlyphs" font-family="Liberation Serif, serif" xml:space="preserve">red.</text>
<text x="422.28" y="102.80" font-size="15.5" textLength="57.39" lengthAdjust="spacingAndGlyphs" font-family="Liberation Serif, serif" xml:space="preserve">cooling</text>
</g>
<g fill="#ff0000">
<text x="224.03" y="30.50" font-size="13.5" textLength="8.19" lengthAdjust="spacingAndGlyphs" font-family="Liberation Sans, sans-serif" xml:space="preserve">C</text>
<text x="232.75" y="30.50" font-size="15.5" textLength="7.43" lengthAdjust="spacingAndGlyphs" font-family="Liberation Serif, serif" font-style="italic" xml:space="preserve">ν</text>
<text x="240.89" y="30.50" font-size="13.5" textLength="8.32" lengthAdjust="spacingAndGlyphs" font-family="Liberation Sans, sans-serif" xml:space="preserve">O</text>
<text x="249.93" y="30.50" font-size="14.5" textLength="3.17" lengthAdjust="spacingAndGlyphs" font-family="Liberation Serif, serif" xml:space="preserve">,</text>
<text x="261.31" y="30.50" font-size="14.5" textLength="4.66" lengthAdjust="spacingAndGlyphs" font-family="Liberation Serif, serif" xml:space="preserve">(</text>
<text x="265.80" y="30.50" font-size="14.5" textLength="16.05" lengthAdjust="spacingAndGlyphs" font-family="Liberation Serif, serif" xml:space="preserve">13</text>
<text x="282.60" y="30.50" font-size="14.5" textLength="3.33" lengthAdjust="spacingAndGlyphs" font-family="Liberation Serif, serif" xml:space="preserve">,</text>
<text x="293.87" y="30.50" font-size="14.5" textLength="28.58" lengthAdjust="spacingAndGlyphs" font-family="Liberation Serif, serif" xml:space="preserve">15.5</text>
<text x="323.10" y="30.50" font-size="14.5" textLength="4.00" lengthAdjust="spacingAndGlyphs" font-family="Liberation Serif, serif" xml:space="preserve">,</text>
<text x="333.93" y="30.50" font-size="14.5" textLength="15.65" lengthAdjust="spacingAndGlyphs" font-family="Liberation Serif, serif" xml:space="preserve">20</text>
<text x="349.64" y="30.50" font-size="14.5" textLength="5.69" lengthAdjust="spacingAndGlyphs" font-family="Liberation Serif, serif" xml:space="preserve">)</text>
<text x="359.54" y="30.50" font-size="14.5" textLength="27.03" lengthAdjust="spacingAndGlyphs" font-family="Liberation Serif, serif" xml:space="preserve">MeV</text>
<text x="387.00" y="30.50" font-size="14.5" textLength="4.00" lengthAdjust="spacingAndGlyphs" font-family="Liberation Serif, serif" xml:space="preserve">,</text>
<text x="415.23" y="31.90" font-size="14.5" textLength="9.82" lengthAdjust="spacingAndGlyphs" font-family="Liberation Serif, serif" xml:space="preserve">=</text>
<text x="443.44" y="31.90" font-size="14.5" textLength="9.70" lengthAdjust="spacingAndGlyphs" font-family="Liberation Serif, serif" xml:space="preserve">=</text>
<text x="397.88" y="30.50" font-size="14.5" textLength="7.88" lengthAdjust="spacingAndGlyphs" font-family="Liberation Serif, serif" font-style="italic" xml:space="preserve">L</text>
<text x="405.10" y="33.20" font-size="9.8" textLength="5.99" lengthAdjust="spacingAndGlyphs" font-family="Liberation Serif, serif" font-style="italic" xml:space="preserve">ν</text>
<text x="410.94" y="36.50" font-size="8.5" textLength="5.07" lengthAdjust="spacingAndGlyphs" font-family="Liberation Sans, sans-serif" font-weight="bold" xml:space="preserve">e</text>
<text x="426.37" y="30.50" font-size="14.5" textLength="7.45" lengthAdjust="spacingAndGlyphs" font-family="Liberation Serif, serif" font-style="italic" xml:space="preserve">L</text>
<text x="433.21" y="33.20" font-size="9.8" textLength="5.57" lengthAdjust="spacingAndGlyphs" font-family="Liberation Serif, serif" font-style="italic" xml:space="preserve">ν</text>
<path d="M433.7,26.7 H438.2" stroke="#ff0000" stroke-width="0.8"/>
<text x="438.59" y="36.50" font-size="8.5" textLength="5.65" lengthAdjust="spacingAndGlyphs" font-family="Liberation Sans, sans-serif" font-weight="bold" xml:space="preserve">e</text>
<text x="454.48" y="30.50" font-size="14.5" textLength="8.09" lengthAdjust="spacingAndGlyphs" font-family="Liberation Serif, serif" font-style="italic" xml:space="preserve">L</text>
<text x="461.90" y="33.20" font-size="9.8" textLength="5.88" lengthAdjust="spacingAndGlyphs" font-family="Liberation Serif, serif" font-style="italic" xml:space="preserve">ν</text>
<text x="468.34" y="36.50" font-size="8.5" textLength="4.53" lengthAdjust="spacingAndGlyphs" font-family="Liberation Sans, sans-serif" font-weight="bold" xml:space="preserve">x</text>
</g>
<g fill="#0a7a0a">
<text x="224.03" y="50.10" font-size="13.5" textLength="8.19" lengthAdjust="spacingAndGlyphs" font-family="Liberation Sans, sans-serif" xml:space="preserve">C</text>
<text x="232.75" y="50.10" font-size="15.5" textLength="7.43" lengthAdjust="spacingAndGlyphs" font-family="Liberation Serif, serif" font-style="italic" xml:space="preserve">ν</text>
<text x="240.89" y="50.10" font-size="13.5" textLength="8.32" lengthAdjust="spacingAndGlyphs" font-family="Liberation Sans, sans-serif" xml:space="preserve">O</text>
<text x="249.93" y="50.10" font-size="14.5" textLength="3.17" lengthAdjust="spacingAndGlyphs" font-family="Liberation Serif, serif" xml:space="preserve">,</text>
<text x="261.31" y="50.10" font-size="14.5" textLength="4.66" lengthAdjust="spacingAndGlyphs" font-family="Liberation Serif, serif" xml:space="preserve">(</text>
<text x="266.58" y="50.10" font-size="14.5" textLength="15.60" lengthAdjust="spacingAndGlyphs" font-family="Liberation Serif, serif" xml:space="preserve">11</text>
<text x="282.60" y="50.10" font-size="14.5" textLength="3.33" lengthAdjust="spacingAndGlyphs" font-family="Liberation Serif, serif" xml:space="preserve">,</text>
<text x="293.90" y="50.10" font-size="14.5" textLength="16.05" lengthAdjust="spacingAndGlyphs" font-family="Liberation Serif, serif" xml:space="preserve">13</text>
<text x="310.60" y="50.10" font-size="14.5" textLength="4.00" lengthAdjust="spacingAndGlyphs" font-family="Liberation Serif, serif" xml:space="preserve">,</text>
<text x="321.93" y="50.10" font-size="14.5" textLength="15.66" lengthAdjust="spacingAndGlyphs" font-family="Liberation Serif, serif" xml:space="preserve">18</text>
<text x="337.18" y="50.10" font-size="14.5" textLength="5.30" lengthAdjust="spacingAndGlyphs" font-family="Liberation Serif, serif" xml:space="preserve">)</text>
<text x="347.44" y="50.10" font-size="14.5" textLength="27.03" lengthAdjust="spacingAndGlyphs" font-family="Liberation Serif, serif" xml:space="preserve">MeV</text>
<text x="374.88" y="50.10" font-size="14.5" textLength="4.17" lengthAdjust="spacingAndGlyphs" font-family="Liberation Serif, serif" xml:space="preserve">,</text>
<text x="402.84" y="51.50" font-size="14.5" textLength="9.70" lengthAdjust="spacingAndGlyphs" font-family="Liberation Serif, serif" xml:space="preserve">=</text>
<text x="431.38" y="51.50" font-size="14.5" textLength="9.22" lengthAdjust="spacingAndGlyphs" font-family="Liberation Serif, serif" xml:space="preserve">=</text>
<text x="385.18" y="50.10" font-size="14.5" textLength="7.88" lengthAdjust="spacingAndGlyphs" font-family="Liberation Serif, serif" font-style="italic" xml:space="preserve">L</text>
<text x="392.39" y="52.80" font-size="9.8" textLength="6.09" lengthAdjust="spacingAndGlyphs" font-family="Liberation Serif, serif" font-style="italic" xml:space="preserve">ν</text>
<text x="398.34" y="56.10" font-size="8.5" textLength="5.07" lengthAdjust="spacingAndGlyphs" font-family="Liberation Sans, sans-serif" font-weight="bold" xml:space="preserve">e</text>
<text x="413.28" y="50.10" font-size="14.5" textLength="8.20" lengthAdjust="spacingAndGlyphs" font-family="Liberation Serif, serif" font-style="italic" xml:space="preserve">L</text>
<text x="420.80" y="52.80" font-size="9.8" textLength="5.78" lengthAdjust="spacingAndGlyphs" font-family="Liberation Serif, serif" font-style="italic" xml:space="preserve">ν</text>
<path d="M421.3,46.3 H426.0" stroke="#0a7a0a" stroke-width="0.8"/>
<text x="426.40" y="56.10" font-size="8.5" textLength="5.53" lengthAdjust="spacingAndGlyphs" font-family="Liberation Sans, sans-serif" font-weight="bold" xml:space="preserve">e</text>
<text x="440.45" y="50.10" font-size="14.5" textLength="8.82" lengthAdjust="spacingAndGlyphs" font-family="Liberation Serif, serif" xml:space="preserve">2</text>
<text x="449.49" y="50.10" font-size="14.5" textLength="8.52" lengthAdjust="spacingAndGlyphs" font-family="Liberation Serif, serif" font-style="italic" xml:space="preserve">L</text>
<text x="457.30" y="52.80" font-size="9.8" textLength="5.99" lengthAdjust="spacingAndGlyphs" font-family="Liberation Serif, serif" font-style="italic" xml:space="preserve">ν</text>
<text x="463.84" y="56.10" font-size="8.5" textLength="4.63" lengthAdjust="spacingAndGlyphs" font-family="Liberation Sans, sans-serif" font-weight="bold" xml:space="preserve">x</text>
</g>
<g fill="#828282">
<text x="398.25" y="139.40" font-size="14.3" textLength="18.65" lengthAdjust="spacingAndGlyphs" font-family="Liberation Serif, serif" xml:space="preserve">2D</text>
<text x="398.17" y="298.00" font-size="14.3" textLength="18.74" lengthAdjust="spacingAndGlyphs" font-family="Liberation Serif, serif" xml:space="preserve">3D</text>
<g transform="translate(384.3,176.4) rotate(8.6)"><text x="0.30" y="0.00" font-size="14.5" textLength="27.20" lengthAdjust="spacingAndGlyphs" font-family="Liberation Serif, serif" xml:space="preserve">with</text><text x="35.97" y="0.00" font-size="14.5" textLength="65.68" lengthAdjust="spacingAndGlyphs" font-family="Liberation Serif, serif" xml:space="preserve">accretion</text></g>
<g transform="translate(396.6,190.1) rotate(8.6)"><text x="-0.05" y="0.00" font-size="14.5" textLength="74.21" lengthAdjust="spacingAndGlyphs" font-family="Liberation Serif, serif" xml:space="preserve">luminosity</text></g>
<g transform="translate(366.4,257.3) rotate(-7.7)"><text x="-0.07" y="0.00" font-size="14.5" textLength="28.16" lengthAdjust="spacingAndGlyphs" font-family="Liberation Serif, serif" xml:space="preserve">red.</text><text x="36.43" y="0.00" font-size="14.5" textLength="53.72" lengthAdjust="spacingAndGlyphs" font-family="Liberation Serif, serif" xml:space="preserve">cooling</text></g>
</g>
</svg>
</body></html>
